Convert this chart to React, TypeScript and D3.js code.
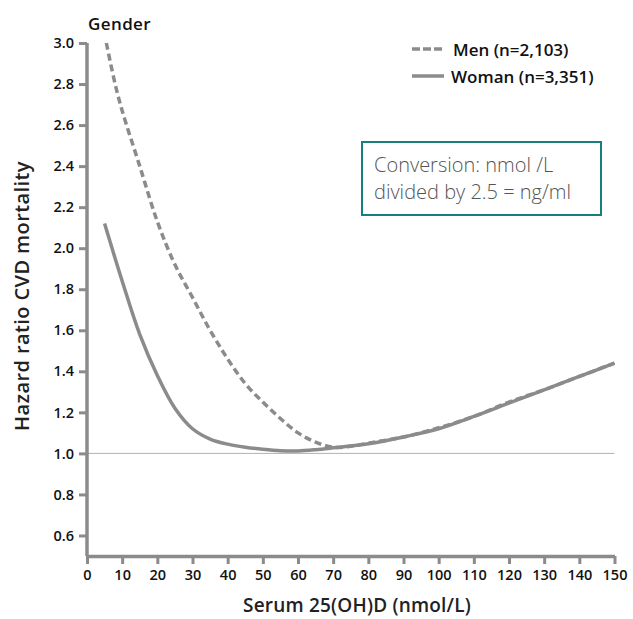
import { useRef, useEffect } from "react";
import * as d3 from "d3";

// serum 25(OH)D, nmol/L
const menX = [5.5, 8, 10, 15, 20, 25, 30, 35, 40, 45, 50, 55, 60, 65, 70, 75, 80, 90, 100, 110, 120, 130, 140, 150];
const menHR = [3.0, 2.8, 2.67, 2.4, 2.13, 1.92, 1.76, 1.6, 1.46, 1.34, 1.25, 1.17, 1.1, 1.055, 1.03, 1.035, 1.05, 1.08, 1.125, 1.18, 1.25, 1.31, 1.375, 1.44];
const womenX = [5, 10, 15, 20, 25, 30, 35, 40, 45, 50, 55, 60, 65, 70, 80, 90, 100, 110, 120, 130, 140, 150];
const womenHR = [2.12, 1.84, 1.58, 1.38, 1.22, 1.12, 1.07, 1.045, 1.03, 1.02, 1.013, 1.012, 1.018, 1.027, 1.047, 1.08, 1.12, 1.18, 1.245, 1.31, 1.375, 1.44];

const xTicks = d3.range(0, 151, 10);
const yTicks = [0.6, 0.8, 1.0, 1.2, 1.4, 1.6, 1.8, 2.0, 2.2, 2.4, 2.6, 2.8, 3.0];
const legendItems = [
  { label: "Men (n=2,103)", dash: "8,3" },
  { label: "Woman (n=3,351)", dash: null },
];
const noteLines = ["Conversion: nmol /L", "divided by 2.5 = ng/ml"];

const W = 633;
const H = 619;
const GRAY = "#8d8a8a";
const FONT = "'Open Sans', sans-serif";

const App = () => {
  const ref = useRef<SVGSVGElement>(null);

  useEffect(() => {
    const svg = d3.select(ref.current);
    svg.selectAll("*").remove();

    const x = d3.scaleLinear().domain([0, 150]).range([87, 614.5]);
    const y = d3.scaleLinear().domain([0.5, 3.0]).range([556, 43]);

    // reference line HR = 1
    svg
      .append("line")
      .attr("x1", x(0))
      .attr("x2", x(150))
      .attr("y1", y(1))
      .attr("y2", y(1))
      .attr("stroke", "#b3b0b0")
      .attr("stroke-width", 1);

    // axes
    const yAxis = svg
      .append("g")
      .attr("transform", `translate(${x(0)},0)`)
      .call(
        d3
          .axisLeft(y)
          .tickValues(yTicks)
          .tickFormat(d3.format(".1f"))
          .tickSize(8)
          .tickSizeOuter(0)
          .tickPadding(5)
      );
    yAxis.select(".domain").attr("d", `M0,${y(3.0)}V${y(0.5)}`);

    const xAxis = svg
      .append("g")
      .attr("transform", `translate(0,${y(0.5)})`)
      .call(
        d3
          .axisBottom(x)
          .tickValues(xTicks)
          .tickSize(8)
          .tickSizeOuter(0)
          .tickPadding(6)
      );

    [yAxis, xAxis].forEach((g) => {
      g.select(".domain").attr("stroke", GRAY).attr("stroke-width", 3.5);
      g.selectAll(".tick line").attr("stroke", GRAY).attr("stroke-width", 3);
      g.selectAll(".tick text")
        .attr("fill", "#111")
        .style("font-family", FONT)
        .style("font-size", "14.5px")
        .style("font-weight", 600);
    });

    // curves
    const line = d3
      .line<[number, number]>()
      .x((d) => x(d[0]))
      .y((d) => y(d[1]))
      .curve(d3.curveCatmullRom.alpha(0.5));

    const menData = menX.map((v, i) => [v, menHR[i]] as [number, number]);
    const womenData = womenX.map((v, i) => [v, womenHR[i]] as [number, number]);

    svg
      .append("path")
      .attr("d", line(womenData))
      .attr("fill", "none")
      .attr("stroke", GRAY)
      .attr("stroke-width", 3.5);

    svg
      .append("path")
      .attr("d", line(menData))
      .attr("fill", "none")
      .attr("stroke", GRAY)
      .attr("stroke-width", 3.5)
      .attr("stroke-dasharray", "7,4");

    // titles
    svg
      .append("text")
      .attr("x", 88)
      .attr("y", 30)
      .text("Gender")
      .style("font-family", FONT)
      .style("font-size", "17px")
      .style("font-weight", 600)
      .style("letter-spacing", "0.4px")
      .attr("fill", "#111");

    svg
      .append("text")
      .attr("x", 357)
      .attr("y", 612)
      .attr("text-anchor", "middle")
      .text("Serum 25(OH)D (nmol/L)")
      .style("font-family", FONT)
      .style("font-size", "19px")
      .style("font-weight", 600)
      .style("letter-spacing", "0.2px")
      .attr("fill", "#222");

    svg
      .append("text")
      .attr("transform", `translate(29,296) rotate(-90)`)
      .attr("text-anchor", "middle")
      .text("Hazard ratio CVD mortality")
      .style("font-family", FONT)
      .style("font-size", "20px")
      .style("font-weight", 600)
      .style("letter-spacing", "0.4px")
      .attr("fill", "#222");

    // legend
    const lg = svg
      .selectAll(".lg")
      .data(legendItems)
      .enter()
      .append("g")
      .attr("transform", (_d, i) => `translate(412,${49 + i * 27})`);
    lg.append("line")
      .attr("x1", 0)
      .attr("x2", 32)
      .attr("stroke", GRAY)
      .attr("stroke-width", 3.5)
      .attr("stroke-dasharray", (d) => d.dash ?? null);
    lg.append("text")
      .attr("x", (_d, i) => (i === 0 ? 41 : 39))
      .attr("y", 7)
      .text((d) => d.label)
      .style("font-family", FONT)
      .style("font-size", "17px")
      .style("font-weight", 600)
      .attr("fill", "#111");

    // conversion note
    svg
      .append("rect")
      .attr("x", 362)
      .attr("y", 142)
      .attr("width", 239)
      .attr("height", 73)
      .attr("fill", "#fff")
      .attr("stroke", "#17807f")
      .attr("stroke-width", 2);
    noteLines.forEach((t, i) => {
      svg
        .append("text")
        .attr("x", 374)
        .attr("y", 172 + i * 27)
        .text(t)
        .style("font-family", FONT)
        .style("font-size", "20px")
        .style("font-weight", 300)
        .attr("fill", "#555");
    });
  }, []);

  return (
    <svg
      ref={ref}
      width={W}
      height={H}
      style={{ position: "absolute", left: 0, top: 0, background: "#fff" }}
    />
  );
};

export default App;
